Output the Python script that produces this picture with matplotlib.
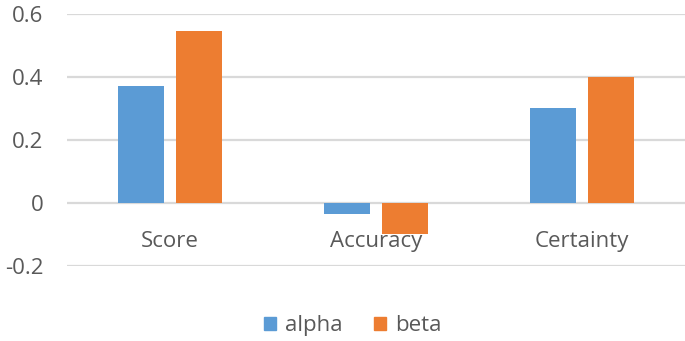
import matplotlib.pyplot as plt
import numpy as np
from matplotlib.patches import Patch

categories = ["Score", "Accuracy", "Certainty"]
alpha = [0.37, -0.035, 0.30]
beta = [0.545, -0.10, 0.40]
yticks = [-0.2, 0, 0.2, 0.4, 0.6]
ytick_labels = ["-0.2", "0", "0.2", "0.4", "0.6"]

BLUE = "#5b9bd5"
ORANGE = "#ed7d31"
GRID = "#d9d9d9"
TEXT = "#595959"
FS = 16

plt.rcParams["font.family"] = ["Open Sans", "DejaVu Sans"]

fig = plt.figure(figsize=(6.85, 3.41), dpi=100)
ax = fig.add_axes([0.098, 0.22, 0.902, 0.739])

x = np.arange(len(categories))
width = 0.223
off = 0.141
ax.bar(x - off, alpha, width, color=BLUE, zorder=3)
ax.bar(x + off, beta, width, color=ORANGE, zorder=3)

ax.set_xlim(-0.5, len(categories) - 0.5)
ax.set_ylim(-0.2, 0.6)
ax.set_yticks(yticks)
ax.set_yticklabels(ytick_labels)
ax.set_xticks([])
ax.tick_params(axis="y", length=0, pad=17, labelsize=FS, labelcolor=TEXT)
ax.yaxis.grid(True, color=GRID, linewidth=1.6, zorder=0)
for s in ax.spines.values():
    s.set_visible(False)

for xi, name in zip(x, categories):
    ax.annotate(name, (xi, 0), xytext=(0, -20), textcoords="offset points",
                ha="center", va="top", fontsize=FS, color=TEXT, zorder=4)

handles = [Patch(color=BLUE, label="alpha"), Patch(color=ORANGE, label="beta")]
fig.legend(handles=handles, loc="center", bbox_to_anchor=(0.515, 0.045), ncol=2,
           frameon=False, fontsize=FS, labelcolor=TEXT, handlelength=0.55,
           handleheight=0.55, handletextpad=0.4, columnspacing=1.4)

fig.savefig("out.png", dpi=100)
